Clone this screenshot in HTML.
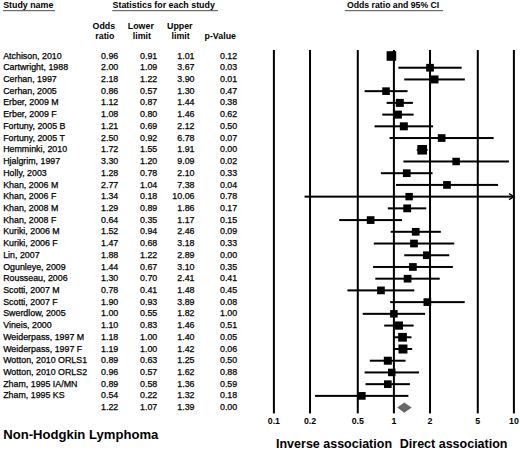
<!DOCTYPE html>
<html><head><meta charset="utf-8"><style>
html,body{margin:0;padding:0;background:#fff;}
body{width:520px;height:451px;overflow:hidden;}
svg{display:block;}
text{font-family:"Liberation Sans",sans-serif;fill:#000;}
.r{font-size:8.85px;stroke:#000;stroke-width:0.25px;}
.b{font-size:8.85px;font-weight:bold;}
.n{text-anchor:end;}
</style></head><body>
<svg width="520" height="451" viewBox="0 0 520 451">
<rect width="520" height="451" fill="#fff"/>

<text class="b" x="3.2" y="7.9">Study name</text>
<text class="b" x="112.6" y="8.1">Statistics for each study</text>
<text class="b" style="font-size:8.7px" x="347" y="7.9">Odds ratio and 95% CI</text>
<rect x="3" y="10" width="52" height="1.2" fill="#6a6a6a"/>
<rect x="112.3" y="10" width="105.7" height="1.2" fill="#6a6a6a"/>
<rect x="344.8" y="10" width="98.3" height="1.2" fill="#6a6a6a"/>
<text class="b" x="92.5" y="28.5">Odds</text>
<text class="b" x="95.3" y="38.7">ratio</text>
<text class="b" x="127.8" y="28.5">Lower</text>
<text class="b" x="132.8" y="38.7">limit</text>
<text class="b" x="167" y="28.5">Upper</text>
<text class="b" x="171.6" y="38.7">limit</text>
<text class="b" x="204.5" y="38.7">p-Value</text>
<text class="r" x="3.2" y="58.60">Atchison, 2010</text>
<text class="r n" x="118.3" y="58.60">0.96</text>
<text class="r n" x="157.3" y="58.60">0.91</text>
<text class="r n" x="194.5" y="58.60">1.01</text>
<text class="r n" x="237.2" y="58.60">0.12</text>
<text class="r" x="3.2" y="70.32">Cartwright, 1988</text>
<text class="r n" x="118.3" y="70.32">2.00</text>
<text class="r n" x="157.3" y="70.32">1.09</text>
<text class="r n" x="194.5" y="70.32">3.67</text>
<text class="r n" x="237.2" y="70.32">0.03</text>
<text class="r" x="3.2" y="82.04">Cerhan, 1997</text>
<text class="r n" x="118.3" y="82.04">2.18</text>
<text class="r n" x="157.3" y="82.04">1.22</text>
<text class="r n" x="194.5" y="82.04">3.90</text>
<text class="r n" x="237.2" y="82.04">0.01</text>
<text class="r" x="3.2" y="93.76">Cerhan, 2005</text>
<text class="r n" x="118.3" y="93.76">0.86</text>
<text class="r n" x="157.3" y="93.76">0.57</text>
<text class="r n" x="194.5" y="93.76">1.30</text>
<text class="r n" x="237.2" y="93.76">0.47</text>
<text class="r" x="3.2" y="105.48">Erber, 2009 M</text>
<text class="r n" x="118.3" y="105.48">1.12</text>
<text class="r n" x="157.3" y="105.48">0.87</text>
<text class="r n" x="194.5" y="105.48">1.44</text>
<text class="r n" x="237.2" y="105.48">0.38</text>
<text class="r" x="3.2" y="117.20">Erber, 2009 F</text>
<text class="r n" x="118.3" y="117.20">1.08</text>
<text class="r n" x="157.3" y="117.20">0.80</text>
<text class="r n" x="194.5" y="117.20">1.46</text>
<text class="r n" x="237.2" y="117.20">0.62</text>
<text class="r" x="3.2" y="128.92">Fortuny, 2005 B</text>
<text class="r n" x="118.3" y="128.92">1.21</text>
<text class="r n" x="157.3" y="128.92">0.69</text>
<text class="r n" x="194.5" y="128.92">2.12</text>
<text class="r n" x="237.2" y="128.92">0.50</text>
<text class="r" x="3.2" y="140.64">Fortuny, 2005 T</text>
<text class="r n" x="118.3" y="140.64">2.50</text>
<text class="r n" x="157.3" y="140.64">0.92</text>
<text class="r n" x="194.5" y="140.64">6.78</text>
<text class="r n" x="237.2" y="140.64">0.07</text>
<text class="r" x="3.2" y="152.36">Hemminki, 2010</text>
<text class="r n" x="118.3" y="152.36">1.72</text>
<text class="r n" x="157.3" y="152.36">1.55</text>
<text class="r n" x="194.5" y="152.36">1.91</text>
<text class="r n" x="237.2" y="152.36">0.00</text>
<text class="r" x="3.2" y="164.08">Hjalgrim, 1997</text>
<text class="r n" x="118.3" y="164.08">3.30</text>
<text class="r n" x="157.3" y="164.08">1.20</text>
<text class="r n" x="194.5" y="164.08">9.09</text>
<text class="r n" x="237.2" y="164.08">0.02</text>
<text class="r" x="3.2" y="175.80">Holly, 2003</text>
<text class="r n" x="118.3" y="175.80">1.28</text>
<text class="r n" x="157.3" y="175.80">0.78</text>
<text class="r n" x="194.5" y="175.80">2.10</text>
<text class="r n" x="237.2" y="175.80">0.33</text>
<text class="r" x="3.2" y="187.52">Khan, 2006 M</text>
<text class="r n" x="118.3" y="187.52">2.77</text>
<text class="r n" x="157.3" y="187.52">1.04</text>
<text class="r n" x="194.5" y="187.52">7.38</text>
<text class="r n" x="237.2" y="187.52">0.04</text>
<text class="r" x="3.2" y="199.24">Khan, 2006 F</text>
<text class="r n" x="118.3" y="199.24">1.34</text>
<text class="r n" x="157.3" y="199.24">0.18</text>
<text class="r n" x="194.5" y="199.24">10.06</text>
<text class="r n" x="237.2" y="199.24">0.78</text>
<text class="r" x="3.2" y="210.96">Khan, 2008 M</text>
<text class="r n" x="118.3" y="210.96">1.29</text>
<text class="r n" x="157.3" y="210.96">0.89</text>
<text class="r n" x="194.5" y="210.96">1.86</text>
<text class="r n" x="237.2" y="210.96">0.17</text>
<text class="r" x="3.2" y="222.68">Khan, 2008 F</text>
<text class="r n" x="118.3" y="222.68">0.64</text>
<text class="r n" x="157.3" y="222.68">0.35</text>
<text class="r n" x="194.5" y="222.68">1.17</text>
<text class="r n" x="237.2" y="222.68">0.15</text>
<text class="r" x="3.2" y="234.40">Kuriki, 2006 M</text>
<text class="r n" x="118.3" y="234.40">1.52</text>
<text class="r n" x="157.3" y="234.40">0.94</text>
<text class="r n" x="194.5" y="234.40">2.46</text>
<text class="r n" x="237.2" y="234.40">0.09</text>
<text class="r" x="3.2" y="246.12">Kuriki, 2006 F</text>
<text class="r n" x="118.3" y="246.12">1.47</text>
<text class="r n" x="157.3" y="246.12">0.68</text>
<text class="r n" x="194.5" y="246.12">3.18</text>
<text class="r n" x="237.2" y="246.12">0.33</text>
<text class="r" x="3.2" y="257.84">Lin, 2007</text>
<text class="r n" x="118.3" y="257.84">1.88</text>
<text class="r n" x="157.3" y="257.84">1.22</text>
<text class="r n" x="194.5" y="257.84">2.89</text>
<text class="r n" x="237.2" y="257.84">0.00</text>
<text class="r" x="3.2" y="269.56">Ogunleye, 2009</text>
<text class="r n" x="118.3" y="269.56">1.44</text>
<text class="r n" x="157.3" y="269.56">0.67</text>
<text class="r n" x="194.5" y="269.56">3.10</text>
<text class="r n" x="237.2" y="269.56">0.35</text>
<text class="r" x="3.2" y="281.28">Rousseau, 2006</text>
<text class="r n" x="118.3" y="281.28">1.30</text>
<text class="r n" x="157.3" y="281.28">0.70</text>
<text class="r n" x="194.5" y="281.28">2.41</text>
<text class="r n" x="237.2" y="281.28">0.41</text>
<text class="r" x="3.2" y="293.00">Scotti, 2007 M</text>
<text class="r n" x="118.3" y="293.00">0.78</text>
<text class="r n" x="157.3" y="293.00">0.41</text>
<text class="r n" x="194.5" y="293.00">1.48</text>
<text class="r n" x="237.2" y="293.00">0.45</text>
<text class="r" x="3.2" y="304.72">Scotti, 2007 F</text>
<text class="r n" x="118.3" y="304.72">1.90</text>
<text class="r n" x="157.3" y="304.72">0.93</text>
<text class="r n" x="194.5" y="304.72">3.89</text>
<text class="r n" x="237.2" y="304.72">0.08</text>
<text class="r" x="3.2" y="316.44">Swerdlow, 2005</text>
<text class="r n" x="118.3" y="316.44">1.00</text>
<text class="r n" x="157.3" y="316.44">0.55</text>
<text class="r n" x="194.5" y="316.44">1.82</text>
<text class="r n" x="237.2" y="316.44">1.00</text>
<text class="r" x="3.2" y="328.16">Vineis, 2000</text>
<text class="r n" x="118.3" y="328.16">1.10</text>
<text class="r n" x="157.3" y="328.16">0.83</text>
<text class="r n" x="194.5" y="328.16">1.46</text>
<text class="r n" x="237.2" y="328.16">0.51</text>
<text class="r" x="3.2" y="339.88">Weiderpass, 1997 M</text>
<text class="r n" x="118.3" y="339.88">1.18</text>
<text class="r n" x="157.3" y="339.88">1.00</text>
<text class="r n" x="194.5" y="339.88">1.40</text>
<text class="r n" x="237.2" y="339.88">0.05</text>
<text class="r" x="3.2" y="351.60">Weiderpass, 1997 F</text>
<text class="r n" x="118.3" y="351.60">1.19</text>
<text class="r n" x="157.3" y="351.60">1.00</text>
<text class="r n" x="194.5" y="351.60">1.42</text>
<text class="r n" x="237.2" y="351.60">0.06</text>
<text class="r" x="3.2" y="363.32">Wotton, 2010 ORLS1</text>
<text class="r n" x="118.3" y="363.32">0.89</text>
<text class="r n" x="157.3" y="363.32">0.63</text>
<text class="r n" x="194.5" y="363.32">1.25</text>
<text class="r n" x="237.2" y="363.32">0.50</text>
<text class="r" x="3.2" y="375.04">Wotton, 2010 ORLS2</text>
<text class="r n" x="118.3" y="375.04">0.96</text>
<text class="r n" x="157.3" y="375.04">0.57</text>
<text class="r n" x="194.5" y="375.04">1.62</text>
<text class="r n" x="237.2" y="375.04">0.88</text>
<text class="r" x="3.2" y="386.76">Zham, 1995 IA/MN</text>
<text class="r n" x="118.3" y="386.76">0.89</text>
<text class="r n" x="157.3" y="386.76">0.58</text>
<text class="r n" x="194.5" y="386.76">1.36</text>
<text class="r n" x="237.2" y="386.76">0.59</text>
<text class="r" x="3.2" y="398.48">Zham, 1995 KS</text>
<text class="r n" x="118.3" y="398.48">0.54</text>
<text class="r n" x="157.3" y="398.48">0.22</text>
<text class="r n" x="194.5" y="398.48">1.32</text>
<text class="r n" x="237.2" y="398.48">0.18</text>
<text class="r n" x="118.3" y="410.20">1.22</text>
<text class="r n" x="157.3" y="410.20">1.07</text>
<text class="r n" x="194.5" y="410.20">1.39</text>
<text class="r n" x="237.2" y="410.20">0.00</text>
<rect x="272.90" y="50" width="2" height="363.4" fill="#000"/>
<rect x="309.02" y="50" width="2" height="363.4" fill="#000"/>
<rect x="356.78" y="50" width="2" height="363.4" fill="#000"/>
<rect x="392.90" y="50" width="2" height="363.4" fill="#000"/>
<rect x="429.02" y="50" width="2" height="363.4" fill="#000"/>
<rect x="476.78" y="50" width="2" height="363.4" fill="#000"/>
<rect x="512.90" y="50" width="2" height="363.4" fill="#000"/>
<rect x="388.98" y="55.00" width="5.43" height="2" fill="#000"/>
<rect x="386.60" y="51.20" width="9.60" height="9.60" fill="#000"/>
<rect x="398.39" y="66.72" width="63.27" height="2" fill="#000"/>
<rect x="426.17" y="63.87" width="7.70" height="7.70" fill="#000"/>
<rect x="404.26" y="78.44" width="60.56" height="2" fill="#000"/>
<rect x="430.51" y="75.44" width="8.00" height="8.00" fill="#000"/>
<rect x="364.60" y="90.16" width="42.97" height="2" fill="#000"/>
<rect x="382.24" y="87.36" width="7.60" height="7.60" fill="#000"/>
<rect x="386.64" y="101.88" width="26.26" height="2" fill="#000"/>
<rect x="395.81" y="98.88" width="8.00" height="8.00" fill="#000"/>
<rect x="382.27" y="113.60" width="31.35" height="2" fill="#000"/>
<rect x="393.91" y="110.60" width="8.00" height="8.00" fill="#000"/>
<rect x="374.56" y="125.32" width="58.50" height="2" fill="#000"/>
<rect x="399.83" y="122.32" width="8.00" height="8.00" fill="#000"/>
<rect x="389.55" y="137.04" width="104.09" height="2" fill="#000"/>
<rect x="437.80" y="134.19" width="7.70" height="7.70" fill="#000"/>
<rect x="416.74" y="148.76" width="10.88" height="2" fill="#000"/>
<rect x="417.36" y="144.96" width="9.60" height="9.60" fill="#000"/>
<rect x="403.40" y="160.48" width="105.53" height="2" fill="#000"/>
<rect x="452.37" y="157.73" width="7.50" height="7.50" fill="#000"/>
<rect x="380.95" y="172.20" width="51.61" height="2" fill="#000"/>
<rect x="402.92" y="169.35" width="7.70" height="7.70" fill="#000"/>
<rect x="395.94" y="183.92" width="102.12" height="2" fill="#000"/>
<rect x="443.15" y="181.07" width="7.70" height="7.70" fill="#000"/>
<rect x="304.53" y="195.64" width="209.68" height="2" fill="#000"/>
<rect x="405.45" y="192.94" width="7.40" height="7.40" fill="#000"/>
<rect x="387.83" y="207.36" width="38.41" height="2" fill="#000"/>
<rect x="403.27" y="204.46" width="7.80" height="7.80" fill="#000"/>
<rect x="339.19" y="219.08" width="62.89" height="2" fill="#000"/>
<rect x="366.79" y="216.23" width="7.70" height="7.70" fill="#000"/>
<rect x="390.68" y="230.80" width="50.14" height="2" fill="#000"/>
<rect x="411.87" y="227.95" width="7.70" height="7.70" fill="#000"/>
<rect x="373.80" y="242.52" width="80.39" height="2" fill="#000"/>
<rect x="410.13" y="239.67" width="7.70" height="7.70" fill="#000"/>
<rect x="404.26" y="254.24" width="44.94" height="2" fill="#000"/>
<rect x="422.95" y="251.39" width="7.70" height="7.70" fill="#000"/>
<rect x="373.03" y="265.96" width="79.83" height="2" fill="#000"/>
<rect x="409.05" y="263.11" width="7.70" height="7.70" fill="#000"/>
<rect x="375.31" y="277.68" width="64.43" height="2" fill="#000"/>
<rect x="403.72" y="274.83" width="7.70" height="7.70" fill="#000"/>
<rect x="347.43" y="289.40" width="66.90" height="2" fill="#000"/>
<rect x="377.10" y="286.55" width="7.70" height="7.70" fill="#000"/>
<rect x="390.12" y="301.12" width="74.58" height="2" fill="#000"/>
<rect x="423.50" y="298.27" width="7.70" height="7.70" fill="#000"/>
<rect x="362.74" y="312.84" width="62.37" height="2" fill="#000"/>
<rect x="390.15" y="310.09" width="7.50" height="7.50" fill="#000"/>
<rect x="384.19" y="324.56" width="29.43" height="2" fill="#000"/>
<rect x="394.77" y="321.46" width="8.20" height="8.20" fill="#000"/>
<rect x="393.90" y="336.28" width="17.54" height="2" fill="#000"/>
<rect x="398.18" y="332.93" width="8.70" height="8.70" fill="#000"/>
<rect x="393.90" y="348.00" width="18.27" height="2" fill="#000"/>
<rect x="398.47" y="344.50" width="9.00" height="9.00" fill="#000"/>
<rect x="369.82" y="359.72" width="35.71" height="2" fill="#000"/>
<rect x="383.83" y="356.72" width="8.00" height="8.00" fill="#000"/>
<rect x="364.60" y="371.44" width="54.44" height="2" fill="#000"/>
<rect x="388.02" y="368.69" width="7.50" height="7.50" fill="#000"/>
<rect x="365.51" y="383.16" width="44.41" height="2" fill="#000"/>
<rect x="384.03" y="380.36" width="7.60" height="7.60" fill="#000"/>
<rect x="314.99" y="394.88" width="93.38" height="2" fill="#000"/>
<rect x="357.94" y="392.03" width="7.70" height="7.70" fill="#000"/>
<path d="M509 193.64 L514 196.64 L509 199.64" stroke="#000" stroke-width="1.3" fill="none"/>
<polygon points="397.23,407.60 404.26,402.50 411.66,407.60 404.26,412.70" fill="#686868"/>
<text class="b" style="font-size:8.8px" text-anchor="middle" x="273.90" y="424.4">0.1</text>
<text class="b" style="font-size:8.8px" text-anchor="middle" x="310.02" y="424.4">0.2</text>
<text class="b" style="font-size:8.8px" text-anchor="middle" x="357.78" y="424.4">0.5</text>
<text class="b" style="font-size:8.8px" text-anchor="middle" x="393.90" y="424.4">1</text>
<text class="b" style="font-size:8.8px" text-anchor="middle" x="430.02" y="424.4">2</text>
<text class="b" style="font-size:8.8px" text-anchor="middle" x="477.78" y="424.4">5</text>
<text class="b" style="font-size:8.8px" text-anchor="middle" x="513.90" y="424.4">10</text>
<text style="font-size:12.5px;font-weight:bold" x="276" y="448">Inverse association</text>
<text style="font-size:12.5px;font-weight:bold" x="399.8" y="448">Direct association</text>
<text style="font-size:13.1px;font-weight:bold" x="3.2" y="439.3">Non-Hodgkin Lymphoma</text>
</svg></body></html>
